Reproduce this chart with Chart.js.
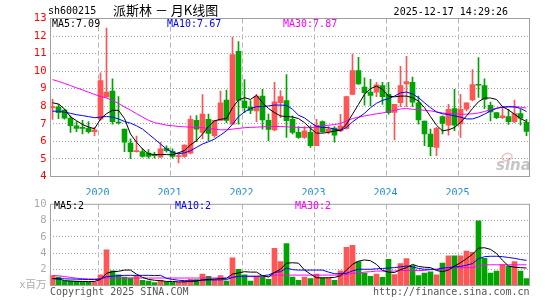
<!DOCTYPE html>
<html>
<head>
<meta charset="utf-8">
<script src="https://cdn.jsdelivr.net/npm/chart.js@4"></script>
<style>
  html, body { margin: 0; padding: 0; background: #fff; }
  #wrap { position: relative; width: 545px; height: 300px; overflow: hidden; }
  canvas { position: absolute; left: 0; }
  #kline { top: 0; }
  #vol { top: 195px; }
</style>
</head>
<body>
<div id="wrap">
  <canvas id="kline" width="545" height="195"></canvas>
  <canvas id="vol" width="545" height="105"></canvas>
</div>
<script>
// monthly candles, 2019-05 .. 2025-12
const months = [
  '2019-05','2019-06','2019-07','2019-08','2019-09','2019-10','2019-11','2019-12',
  '2020-01','2020-02','2020-03','2020-04','2020-05','2020-06','2020-07','2020-08','2020-09','2020-10','2020-11','2020-12',
  '2021-01','2021-02','2021-03','2021-04','2021-05','2021-06','2021-07','2021-08','2021-09','2021-10','2021-11','2021-12',
  '2022-01','2022-02','2022-03','2022-04','2022-05','2022-06','2022-07','2022-08','2022-09','2022-10','2022-11','2022-12',
  '2023-01','2023-02','2023-03','2023-04','2023-05','2023-06','2023-07','2023-08','2023-09','2023-10','2023-11','2023-12',
  '2024-01','2024-02','2024-03','2024-04','2024-05','2024-06','2024-07','2024-08','2024-09','2024-10','2024-11','2024-12',
  '2025-01','2025-02','2025-03','2025-04','2025-05','2025-06','2025-07','2025-08','2025-09','2025-10','2025-11','2025-12'
];

const opens = [7.92,7.96,7.79,7.32,6.89,6.76,6.74,6.55,7.26,8.53, 8.87,7.1,6.7,5.91,5.42,5.42,5.33,5.22,5.1,5.6,
  5.44,5.13,5.14,5.33,7.2,6.51,7.26,6.32,7.2,8.35, 6.98,11.13,8.3,7.96,7.73,8.58,7.2,6.65,8.2,8.33,
  7.26,6.51,6.23,6.51,5.76,7.13,6.55,6.76,6.6,6.74, 8.68,10.03,9.09,8.81,8.81,9.18,8.68,7.65,8.2,9.28,
  9.37,8.2,7.16,6.42,5.66,7.41,6.93,7.87,6.99,7.83, 8.36,9.24,9.18,8.05,7.64,7.35,7.41,7.13,7.58,7.08];
const highs = [8.4,8.11,7.83,7.45,7.13,7.2,7.13,6.8,9.9,12.45, 9.56,8.55,6.7,6.14,6.3,5.57,5.53,5.38,5.95,5.75,
  5.57,5.38,5.8,7.45,7.47,8.66,7.55,7.2,8.87,8.92, 11.94,11.69,9.52,8.33,8.68,8.96,7.55,9.37,8.9,9.81,
  7.45,6.85,6.85,6.89,7.26,7.17,6.85,6.85,7.54,8.58, 10.97,10.79,9.62,9.54,9.37,9.37,9.37,8.11,10.28,10.85,
  9.67,8.58,7.16,6.7,6.8,7.45,8.11,8.96,8.68,8.2, 10.09,10.78,9.56,8.24,7.64,7.98,7.83,8.35,7.83,7.26];
const lows = [7.25,7.3,7.26,6.51,6.55,6.42,6.47,6.32,7.2,8.5, 6.98,6.98,5.42,5.01,5.38,5.1,5.04,5.04,5.1,5.38,
  5.05,4.78,5.08,5.29,5.99,6.14,6.04,6.22,7.2,7.07, 6.98,6.98,7.64,7.58,7.13,6.7,6.04,6.6,7.35,6.23,
  6.42,6.17,6.17,5.66,5.76,6.51,6.42,5.95,6.55,6.7, 8.68,9.24,8.07,8.02,8.55,8.11,7.55,6.09,7.98,7.98,
  7.98,6.98,5.76,5.19,5.19,6.42,6.36,6.61,6.23,7.73, 8.3,8.5,7.87,7.16,7.3,7.3,6.96,7.07,6.93,6.32];
const closes = [7.98,7.64,7.32,6.89,6.74,6.74,6.55,6.66,9.47,8.81, 7.13,7.05,5.95,5.42,5.45,5.15,5.14,5.19,5.57,5.47,
  5.14,5.15,5.79,7.26,6.7,7.55,6.45,7.2,8.2,7.2, 10.94,8.33,7.92,7.77,8.58,7.22,6.68,8.26,8.55,7.18,
  6.51,6.23,6.6,5.76,6.93,6.55,6.7,6.36,6.89,8.55, 10.03,9.28,8.77,8.62,9.22,8.55,7.64,8.11,9.18,9.41,
  8.24,7.22,6.42,5.7,6.74,7.02,7.83,6.93,7.83,8.2, 9.24,9.2,8.39,7.68,7.35,7.45,7.13,7.58,7.32,6.57];

// volume, millions of shares
const volumes = [1.23,1.04,0.54,0.54,0.54,0.46,0.46,0.46,1.3,4.38, 1.8,1.3,1.04,0.92,1.23,0.65,0.54,0.35,0.65,0.46,
  0.38,0.38,0.54,0.77,0.73,1.42,1.12,0.73,1.23,0.54, 3.42,2.0,1.3,0.54,1.12,1.04,0.77,4.58,2.96,5.15,
  1.04,0.65,1.04,0.85,1.42,0.92,0.92,0.65,1.8,4.69, 4.96,2.96,1.54,1.12,1.42,1.0,3.23,1.35,2.69,3.31,
  2.46,1.23,1.54,1.69,1.31,2.77,3.65,3.65,3.65,4.23, 4.08,7.96,3.35,1.54,1.77,2.58,2.38,2.96,1.77,0.85];

// moving averages as drawn on the price panel
const ma5 = [8.2,8.13,7.85,7.4,7.18,6.96,6.82,6.72,7.28,7.58, 7.77,7.77,7.3,6.42,5.95,5.57,5.29,5.25,5.25,5.25,
  5.23,5.35,5.48,5.8,6.04,6.42,6.85,7.17,7.26,7.3, 7.92,8.36,8.49,8.39,8.62,8.2,7.87,7.64,7.45,7.41,
  7.39,7.3,7.07,6.74,6.47,6.47,6.51,6.59,6.64,6.98, 7.55,8.11,8.68,9.0,9.15,8.96,8.58,8.54,8.58,8.58,
  8.49,8.3,7.92,7.41,6.92,6.6,6.66,6.79,7.08,7.45, 7.87,8.26,8.47,8.47,8.39,7.98,7.79,7.55,7.3,7.13];
const ma10 = [7.72,7.72,7.66,7.6,7.52,7.47,7.41,7.35,7.38,7.42, 7.38,7.28,7.13,7.04,6.89,6.7,6.42,6.14,5.85,5.57,
  5.38,5.29,5.35,5.47,5.66,5.85,5.98,6.13,6.36,6.6, 6.98,7.41,7.68,7.87,7.98,7.98,8.02,8.07,8.07,8.05,
  7.83,7.49,7.34,7.08,6.85,6.8,6.78,6.7,6.62,6.8, 7.11,7.36,7.6,7.92,8.17,8.34,8.43,8.58,8.77,8.81,
  8.7,8.49,8.2,7.92,7.68,7.57,7.53,7.45,7.38,7.28, 7.28,7.39,7.55,7.73,7.88,7.96,7.98,7.96,7.88,7.7];
const ma30 = [9.52,9.42,9.3,9.18,9.05,8.93,8.8,8.68,8.56,8.47, 8.33,8.16,7.96,7.78,7.58,7.39,7.2,7.07,7.0,6.92,
  6.89,6.85,6.83,6.81,6.8,6.78,6.74,6.7,6.66,6.66, 6.7,6.74,6.78,6.8,6.81,6.83,6.85,6.85,6.85,6.83,
  6.81,6.8,6.78,6.78,6.81,6.89,6.92,6.96,7.02,7.17, 7.3,7.38,7.45,7.51,7.57,7.62,7.7,7.77,7.85,7.87,
  7.83,7.81,7.77,7.74,7.68,7.62,7.58,7.57,7.55,7.55, 7.57,7.62,7.7,7.81,7.89,7.94,7.96,7.98,7.95,7.9];

// moving averages as drawn on the volume panel
const volMa5 = [0.85,0.8,0.6,0.55,0.5,0.5,0.48,0.5,0.75,1.5, 1.7,1.75,1.9,1.9,1.4,1.0,0.75,0.65,0.6,0.5,
  0.5,0.45,0.45,0.5,0.55,0.7,0.75,0.8,0.85,0.9, 1.4,1.55,1.7,1.65,1.65,1.2,1.05,1.6,2.0,2.75,
  2.8,2.75,1.9,1.4,0.95,0.95,0.95,1.0,1.2,1.9, 2.6,3.0,3.15,3.05,2.6,1.85,1.65,1.6,1.95,2.2,
  2.6,2.35,2.25,2.2,1.85,1.7,1.9,2.4,2.8,3.3, 3.85,4.6,4.65,4.45,3.95,3.1,2.4,2.25,2.2,2.15];
const volMa10 = [0.85,0.85,0.82,0.8,0.78,0.75,0.75,0.72,0.8,1.1, 1.15,1.2,1.25,1.25,1.25,1.25,1.25,1.22,1.25,0.88,
  0.75,0.65,0.6,0.58,0.6,0.65,0.68,0.68,0.7,0.72, 1.0,1.12,1.15,1.15,1.15,1.2,1.3,1.6,1.7,2.15,
  1.95,1.9,1.9,1.9,1.9,1.9,1.65,1.45,1.45,1.5, 1.8,2.0,2.0,2.0,2.05,2.1,2.15,2.2,2.3,2.4,
  2.3,2.1,2.0,2.0,2.0,2.15,2.2,2.3,2.35,2.5, 2.7,3.3,3.55,3.6,3.6,3.55,3.45,3.35,3.2,3.1];
const volMa30 = [1.23,1.2,1.1,1.0,0.9,0.85,0.8,0.8,0.85,0.95, 0.92,0.92,0.92,0.92,0.92,0.92,0.92,0.92,0.92,0.92,
  0.92,0.92,0.92,0.92,0.92,0.92,0.92,0.92,0.92,0.92, 1.05,1.1,1.1,1.1,1.1,1.1,1.1,1.28,1.28,1.28,
  1.28,1.28,1.28,1.28,1.28,1.28,1.28,1.28,1.28,1.35, 1.5,1.55,1.65,1.7,1.78,1.78,1.78,1.78,1.85,1.85,
  1.85,1.85,1.85,1.95,1.95,1.95,1.95,2.2,2.2,2.2, 2.2,2.4,2.55,2.55,2.55,2.55,2.55,2.55,2.55,2.55];

const legendPrice = ['MA5:7.09', 'MA10:7.67', 'MA30:7.87'];
const legendVol = ['MA5:2', 'MA10:2', 'MA30:2'];

const UP = '#FF5555';
const DOWN = '#00A400';
const GRID = '#A0A0A0';
const MONO = '10px "DejaVu Sans Mono", monospace';
const CJK = '13px "Noto Sans CJK SC", sans-serif';

const colors = closes.map((c, i) => c >= opens[i] ? UP : DOWN);
const isJan = i => months[i] && months[i].endsWith('-01');

// dashed year separators, 2px left of the January candle centre
const yearLines = {
    id: 'yearLines',
    beforeDatasetsDraw(chart) {
        const { ctx, chartArea: a, scales: { x } } = chart;
        ctx.save();
        ctx.strokeStyle = '#B4B4B4';
        ctx.lineWidth = 1;
        ctx.setLineDash([5, 3]);
        months.forEach((m, i) => {
            if (!isJan(i)) return;
            const px = Math.floor(x.getPixelForValue(i) - 2) + 0.5;
            ctx.beginPath();
            ctx.moveTo(px, a.top);
            ctx.lineTo(px, a.bottom);
            ctx.stroke();
        });
        ctx.restore();
    }
};

// grey box round the plot
const frame = {
    id: 'frame',
    afterDatasetsDraw(chart) {
        const { ctx, chartArea: a } = chart;
        ctx.save();
        ctx.strokeStyle = GRID;
        ctx.lineWidth = 1;
        ctx.strokeRect(a.left + 1, a.top, a.right - a.left - 1, a.bottom - a.top);
        ctx.restore();
    }
};

// free text drawn onto the canvas
function textLayer(items) {
    return {
        id: 'textLayer',
        afterDraw(chart) {
            const ctx = chart.ctx;
            ctx.save();
            ctx.textBaseline = 'middle';
            items.forEach(t => {
                ctx.font = t.font || MONO;
                ctx.fillStyle = t.color || '#000';
                ctx.textAlign = t.align || 'left';
                ctx.fillText(t.text, t.x, t.y);
            });
            ctx.restore();
        }
    };
}

const sinaMark = {
    id: 'sinaMark',
    afterDraw(chart) {
        const ctx = chart.ctx;
        ctx.save();
        ctx.fillStyle = 'rgba(150,150,150,0.55)';
        ctx.font = 'italic bold 15px "DejaVu Sans", sans-serif';
        ctx.textBaseline = 'alphabetic';
        ctx.fillText('sina', 496, 170);
        ctx.strokeStyle = 'rgba(235,150,150,0.6)';
        ctx.lineWidth = 1.5;
        ctx.beginPath();
        ctx.ellipse(507, 157, 5, 3.5, -0.3, 0, Math.PI * 2);
        ctx.stroke();
        ctx.restore();
    }
};

function lineSet(label, data, color) {
    return {
        type: 'line', label, data,
        borderColor: color, borderWidth: 1,
        pointRadius: 0, tension: 0, order: 0
    };
}

// ---------- price panel ----------
new Chart(document.getElementById('kline'), {
    type: 'bar',
    data: {
        labels: months,
        datasets: [
            lineSet('MA5', ma5, '#000000'),
            lineSet('MA10', ma10, '#0000FF'),
            lineSet('MA30', ma30, '#FF00FF'),
            {
                label: 'body',
                data: opens.map((o, i) => [o, closes[i]]),
                backgroundColor: colors,
                barThickness: 5,
                minBarLength: 1,
                grouped: false,
                order: 1
            },
            {
                label: 'wick',
                data: lows.map((l, i) => [l, highs[i]]),
                backgroundColor: colors,
                barThickness: 1,
                grouped: false,
                order: 2
            }
        ]
    },
    options: {
        responsive: false,
        animation: false,
        events: [],
        layout: { padding: { left: 0, right: 15.5, top: 18.5, bottom: 0 } },
        plugins: { legend: { display: false }, tooltip: { enabled: false } },
        scales: {
            x: {
                offset: true,
                grid: { display: false },
                border: { display: false },
                ticks: {
                    autoSkip: false,
                    maxRotation: 0,
                    padding: 3,
                    labelOffset: -3,
                    color: '#1E8CD2',
                    font: { family: '"DejaVu Sans Mono", monospace', size: 10 },
                    callback: (v, i) => isJan(i) ? months[i].slice(0, 4) : ''
                },
                afterFit: s => { s.height = 195 - 176.5; }
            },
            y: {
                min: 4,
                max: 13,
                ticks: {
                    stepSize: 1,
                    padding: 3,
                    color: '#FF0000',
                    font: { family: '"DejaVu Sans Mono", monospace', size: 10.5 }
                },
                grid: {
                    drawTicks: false,
                    color: ctx => (ctx.tick && (ctx.tick.value === 4 || ctx.tick.value === 13)) ? 'rgba(0,0,0,0)' : GRID
                },
                border: { display: false, dash: [1, 2] },
                afterFit: s => { s.width = 49.5; }
            }
        }
    },
    plugins: [yearLines, frame, sinaMark, textLayer([
        { text: 'sh600215', x: 48, y: 11 },
        { text: '派斯林 － 月K线图', x: 113, y: 10.5, font: CJK },
        { text: '2025-12-17 14:29:26', x: 508, y: 12, align: 'right' },
        { text: legendPrice[0], x: 52, y: 24 },
        { text: legendPrice[1], x: 167, y: 24, color: '#0000FF' },
        { text: legendPrice[2], x: 283, y: 24, color: '#FF00FF' }
    ])]
});

// ---------- volume panel ----------
new Chart(document.getElementById('vol'), {
    type: 'bar',
    data: {
        labels: months,
        datasets: [
            lineSet('MA5', volMa5, '#000000'),
            lineSet('MA10', volMa10, '#0000FF'),
            lineSet('MA30', volMa30, '#FF00FF'),
            {
                label: 'volume',
                data: volumes,
                backgroundColor: colors,
                barThickness: 5,
                grouped: false,
                order: 1
            }
        ]
    },
    options: {
        responsive: false,
        animation: false,
        events: [],
        layout: { padding: { left: 0, right: 15.5, top: 6.5, bottom: 0 } },
        plugins: { legend: { display: false }, tooltip: { enabled: false } },
        scales: {
            x: {
                offset: true,
                grid: { display: false },
                border: { display: false },
                ticks: { display: false },
                afterFit: s => { s.height = 105 - 90.5; }
            },
            y: {
                min: 0,
                max: 10,
                ticks: {
                    stepSize: 2,
                    padding: 3,
                    color: '#AAAAAA',
                    font: { family: '"DejaVu Sans Mono", "Noto Sans CJK SC", monospace', size: 10.5 },
                    callback: v => v === 0 ? 'x百万' : v
                },
                grid: {
                    drawTicks: false,
                    color: ctx => (ctx.tick && (ctx.tick.value === 0 || ctx.tick.value === 10)) ? 'rgba(0,0,0,0)' : GRID
                },
                border: { display: false, dash: [1, 2] },
                afterFit: s => { s.width = 49.5; }
            }
        }
    },
    plugins: [yearLines, frame, textLayer([
        { text: legendVol[0], x: 54, y: 11.7 },
        { text: legendVol[1], x: 175, y: 11.7, color: '#0000FF' },
        { text: legendVol[2], x: 295, y: 11.7, color: '#FF00FF' },
        { text: 'Copyright 2025 SINA.COM', x: 50, y: 97.7, color: '#555555' },
        { text: 'http://finance.sina.com.cn', x: 529.5, y: 97.7, color: '#555555', align: 'right' }
    ])]
});
</script>
</body>
</html>
